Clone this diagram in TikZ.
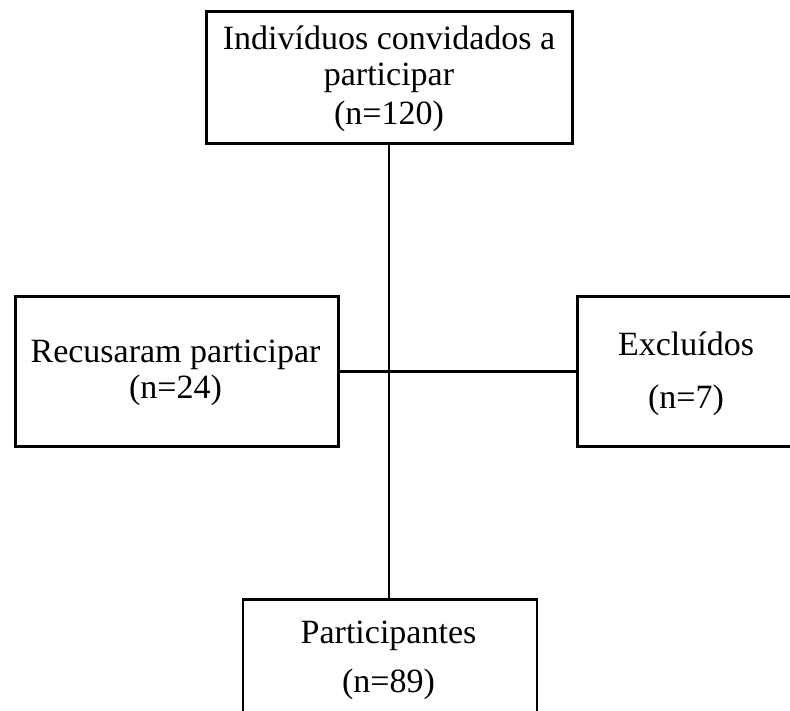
\documentclass[tikz,border=0pt]{standalone}
\usepackage{fontspec}
\setmainfont{Liberation Serif}
\begin{document}
\begin{tikzpicture}[x=1bp,y=-1bp,
  box/.style={draw=black,line width=2.7bp,inner sep=0pt,rectangle},
  txt/.style={anchor=base,inner sep=0pt,font=\fontsize{34bp}{40bp}\selectfont},
  link/.style={draw=black,line width=2.7bp}]
\useasboundingbox (0,0) rectangle (790,711);
\clip (0,0) rectangle (790,711);
% boxes
\node[box,minimum width=366bp,minimum height=132bp,anchor=north west] (top) at (205,10) {};
\node[box,minimum width=323bp,minimum height=150bp,anchor=north west] (left) at (14,295) {};
\node[box,minimum width=230bp,minimum height=150bp,anchor=north west] (right) at (576,295) {};
\node[box,minimum width=294bp,minimum height=140bp,anchor=north west] (bottom) at (241.5,598) {};
% texts
\node[txt] (t1) at (389,50) {Indivíduos convidados a};
\node[txt] (t2) at (389,86) {participar};
\node[txt] (t3) at (389,125) {(n=120)};
\node[txt] (l1) at (175.5,362) {Recusaram participar};
\node[txt] (l2) at (175.5,398) {(n=24)};
\node[txt] (r1) at (686,355) {Excluídos};
\node[txt] (r2) at (686,408) {(n=7)};
\node[txt] (b1) at (388.5,643) {Participantes};
\node[txt] (b2) at (388.5,692) {(n=89)};
% connectors
\coordinate (hub) at (389,370);
\draw[link] (top.south -| hub) -- (bottom.north -| hub);
\draw[link] (left.east) -- (right.west);
\end{tikzpicture}
\end{document}
